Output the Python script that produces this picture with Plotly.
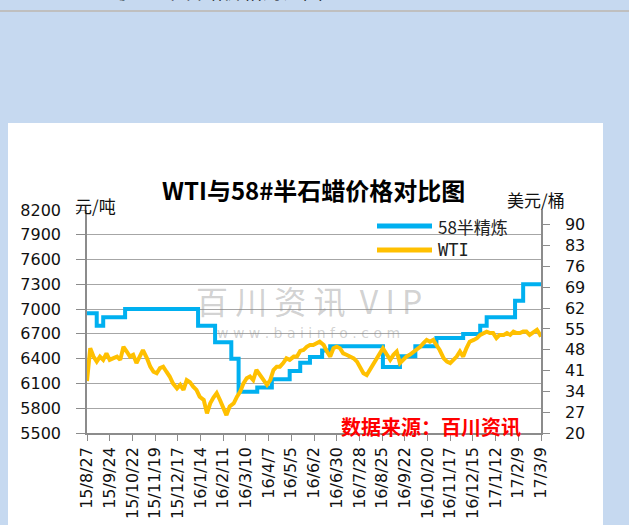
import plotly.graph_objects as go

# ---------------- data ----------------
wax_dates = ["2015-08-27", "2015-09-08", "2015-09-16", "2015-10-13", "2016-01-11",
             "2016-02-01", "2016-02-21", "2016-03-01", "2016-03-24", "2016-04-11",
             "2016-05-03", "2016-05-16", "2016-05-28", "2016-06-12", "2016-06-22",
             "2016-08-26", "2016-09-16", "2016-10-05", "2016-10-31", "2016-12-03",
             "2016-12-24", "2017-01-01", "2017-02-05", "2017-02-15", "2017-03-09"]
wax_values = [6950, 6800, 6900, 7000, 6800,
              6600, 6400, 6000, 6050, 6150,
              6250, 6350, 6420, 6500, 6550,
              6300, 6430, 6550, 6650, 6700,
              6800, 6900, 7100, 7300, 7300]

wti_dates = ["2015-08-27", "2015-08-31", "2015-09-04", "2015-09-08", "2015-09-12", "2015-09-16",
             "2015-09-20", "2015-09-24", "2015-09-28", "2015-10-03", "2015-10-07", "2015-10-11",
             "2015-10-15", "2015-10-19", "2015-10-23", "2015-10-27", "2015-10-31", "2015-11-04",
             "2015-11-09", "2015-11-13", "2015-11-17", "2015-11-21", "2015-11-25", "2015-11-29",
             "2015-12-03", "2015-12-07", "2015-12-11", "2015-12-16", "2015-12-20", "2015-12-24",
             "2015-12-28", "2016-01-01", "2016-01-05", "2016-01-09", "2016-01-13", "2016-01-18",
             "2016-01-22", "2016-01-26", "2016-01-30", "2016-02-03", "2016-02-07", "2016-02-11",
             "2016-02-15", "2016-02-19", "2016-02-24", "2016-02-28", "2016-03-03", "2016-03-07",
             "2016-03-11", "2016-03-15", "2016-03-19", "2016-03-23", "2016-03-27", "2016-04-01",
             "2016-04-05", "2016-04-09", "2016-04-13", "2016-04-17", "2016-04-21", "2016-04-25",
             "2016-04-29", "2016-05-03", "2016-05-08", "2016-05-12", "2016-05-16", "2016-05-20",
             "2016-05-24", "2016-05-28", "2016-06-01", "2016-06-09", "2016-06-14", "2016-06-18",
             "2016-06-22", "2016-06-26", "2016-06-30", "2016-07-04", "2016-07-08", "2016-07-12",
             "2016-07-16", "2016-07-21", "2016-07-25", "2016-07-29", "2016-08-02", "2016-08-06",
             "2016-08-10", "2016-08-14", "2016-08-18", "2016-08-22", "2016-08-26", "2016-08-31",
             "2016-09-04", "2016-09-08", "2016-09-12", "2016-09-16", "2016-09-20", "2016-09-24",
             "2016-09-28", "2016-10-03", "2016-10-07", "2016-10-11", "2016-10-15", "2016-10-19",
             "2016-10-23", "2016-10-27", "2016-10-31", "2016-11-04", "2016-11-09", "2016-11-13",
             "2016-11-17", "2016-11-21", "2016-11-25", "2016-11-29", "2016-12-03", "2016-12-07",
             "2016-12-11", "2016-12-16", "2016-12-20", "2016-12-24", "2016-12-28", "2017-01-01",
             "2017-01-05", "2017-01-09", "2017-01-13", "2017-01-17", "2017-01-22", "2017-01-26",
             "2017-01-30", "2017-02-03", "2017-02-07", "2017-02-11", "2017-02-15", "2017-02-19",
             "2017-02-23", "2017-02-28", "2017-03-04", "2017-03-08", "2017-03-09"]
wti_values = [37.5, 48.5, 45.7, 44.0, 45.7, 44.6,
              46.8, 44.6, 45.1, 45.7, 44.6, 49.0,
              47.4, 45.7, 46.3, 43.5, 45.7, 47.9,
              45.1, 42.3, 40.6, 40.1, 41.8, 42.3,
              40.6, 39.0, 36.7, 35.0, 36.2, 34.5,
              37.8, 37.1, 35.6, 34.5, 32.2, 31.1,
              26.6, 30.0, 31.9, 33.4, 31.1, 28.9,
              26.0, 28.9, 30.0, 32.2, 33.9, 36.7,
              38.4, 39.0, 37.8, 41.2, 39.5, 37.8,
              36.2, 37.8, 41.2, 42.3, 42.3, 43.5,
              45.1, 44.6, 45.7, 45.7, 47.6, 47.9,
              49.0, 49.6, 49.6, 50.7, 49.6, 47.4,
              45.7, 48.5, 49.0, 48.5, 46.8, 46.3,
              45.7, 45.1, 44.0, 42.3, 40.1, 39.5,
              41.2, 42.9, 44.6, 46.8, 48.5, 46.3,
              44.6, 46.3, 47.4, 43.5, 44.6, 45.7,
              46.3, 47.4, 47.9, 49.0, 50.2, 51.3,
              50.7, 51.3, 49.6, 47.9, 45.1, 44.0,
              43.5, 44.6, 45.7, 47.4, 45.7, 48.5,
              50.7, 51.3, 51.9, 53.0, 53.6, 54.1,
              53.6, 53.6, 51.9, 53.0, 53.0, 53.6,
              53.0, 54.1, 53.6, 53.6, 54.1, 54.1,
              53.0, 54.1, 54.7, 53.0, 52.4]

x_tick_dates = ["2015-08-27", "2015-09-24", "2015-10-22", "2015-11-19", "2015-12-17",
                "2016-01-14", "2016-02-11", "2016-03-10", "2016-04-07", "2016-05-05",
                "2016-06-02", "2016-06-30", "2016-07-28", "2016-08-25", "2016-09-22",
                "2016-10-20", "2016-11-17", "2016-12-15", "2017-01-12", "2017-02-09",
                "2017-03-09"]
x_tick_labels = ["15/8/27", "15/9/24", "15/10/22", "15/11/19", "15/12/17",
                 "16/1/14", "16/2/11", "16/3/10", "16/4/7", "16/5/5",
                 "16/6/2", "16/6/30", "16/7/28", "16/8/25", "16/9/22",
                 "16/10/20", "16/11/17", "16/12/15", "17/1/12", "17/2/9",
                 "17/3/9"]
left_ticks = [5500, 5800, 6100, 6400, 6700, 7000, 7300, 7600, 7900, 8200]
right_ticks = [20, 27, 34, 41, 48, 55, 62, 69, 76, 83, 90]

title_text = "WTI与58#半石蜡价格对比图"
wax_name = "58半精炼"
wti_name = "WTI"

# ---------------- figure ----------------
BLUE = "#00B0F0"
ORANGE = "#FFC000"
GRID = "#A6A6A6"
AXIS = "#8C8C8C"
TICKFONT = dict(family="DejaVu Sans", size=16, color="#111111")
CJK = "Noto Sans CJK SC"

fig = go.Figure()
fig.add_trace(go.Scatter(x=wax_dates, y=wax_values, name=wax_name, mode="lines",
                         line=dict(color=BLUE, width=4, shape="hv"), yaxis="y"))
fig.add_trace(go.Scatter(x=wti_dates, y=wti_values, name=wti_name, mode="lines",
                         line=dict(color=ORANGE, width=4), yaxis="y2"))

L, R, T, B = 87, 88, 210, 92
W, H = 629, 525
pw, ph = W - L - R, H - T - B


def px(x):
    return (x - L) / pw


def py(y):
    return (H - B - y) / ph


shapes = [
    # white chart panel
    dict(type="rect", xref="paper", yref="paper", x0=px(8), x1=px(603), y0=py(540), y1=py(123),
         fillcolor="white", line=dict(width=0), layer="below"),
    # thin separator line at very top
    dict(type="line", xref="paper", yref="paper", x0=px(-5), x1=px(640), y0=py(11), y1=py(11),
         line=dict(color="#BFBFBF", width=2)),
    # legend samples
    dict(type="line", xref="paper", yref="paper", x0=px(377), x1=px(432), y0=py(226), y1=py(226),
         line=dict(color=BLUE, width=5)),
    dict(type="line", xref="paper", yref="paper", x0=px(377), x1=px(432), y0=py(250), y1=py(250),
         line=dict(color=ORANGE, width=5)),
]

annotations = [
    dict(text="<b>" + title_text + "</b>", xref="paper", yref="paper", x=px(313), y=py(189),
         xanchor="center", yanchor="middle", showarrow=False,
         font=dict(family=CJK, size=24, color="#000000")),
    dict(text="元/吨", xref="paper", yref="paper", x=px(95), y=py(205),
         xanchor="center", yanchor="middle", showarrow=False,
         font=dict(family=CJK, size=17, color="#111111")),
    dict(text="美元/桶", xref="paper", yref="paper", x=px(536), y=py(199),
         xanchor="center", yanchor="middle", showarrow=False,
         font=dict(family=CJK, size=17, color="#111111")),
    dict(text=wax_name, xref="paper", yref="paper", x=px(436), y=py(226),
         xanchor="left", yanchor="middle", showarrow=False,
         font=dict(family=CJK, size=17, color="#222222")),
    dict(text=wti_name, xref="paper", yref="paper", x=px(436), y=py(250),
         xanchor="left", yanchor="middle", showarrow=False,
         font=dict(family="DejaVu Sans Mono", size=17, color="#222222")),
    # watermark
    dict(text="百 川 资 讯  V I P", xref="paper", yref="paper", x=px(309), y=py(300),
         xanchor="center", yanchor="middle", showarrow=False,
         font=dict(family=CJK, size=32, color="rgba(140,140,140,0.40)")),
    dict(text="w w w . b a i i n f o . c o m", xref="paper", yref="paper", x=px(308), y=py(333),
         xanchor="center", yanchor="middle", showarrow=False,
         font=dict(family="DejaVu Sans", size=14, color="rgba(140,140,140,0.40)")),
    # source
    dict(text="<b>数据来源：百川资讯</b>", xref="paper", yref="paper", x=px(431), y=py(426),
         xanchor="center", yanchor="middle", showarrow=False,
         font=dict(family=CJK, size=20, color="#FF0000")),
    # clipped heading at very top of the page
    dict(text="WTI与58#半石蜡价格对比图：", xref="paper", yref="paper", x=px(72), y=py(7),
         xanchor="left", yanchor="bottom", showarrow=False,
         font=dict(family=CJK, size=20, color="#000000")),
]

fig.update_layout(
    width=W, height=H,
    margin=dict(l=L, r=R, t=T, b=B, pad=0),
    paper_bgcolor="#C6D9F0",
    plot_bgcolor="white",
    showlegend=False,
    shapes=shapes,
    annotations=annotations,
    xaxis=dict(type="date", range=["2015-08-27", "2017-03-09"],
               tickmode="array", tickvals=x_tick_dates, ticktext=x_tick_labels,
               tickangle=-90, tickfont=TICKFONT,
               ticks="outside", ticklen=6, tickcolor=AXIS,
               showline=True, linecolor=AXIS, linewidth=1.5,
               showgrid=False, zeroline=False, automargin=False),
    yaxis=dict(range=[5500, 8200], tickmode="array", tickvals=left_ticks,
               tickfont=TICKFONT, ticks="outside", ticklen=9, tickcolor=AXIS,
               ticklabelstandoff=12,
               showline=True, linecolor=AXIS, linewidth=1.5,
               showgrid=True, gridcolor=GRID, gridwidth=1.3,
               zeroline=False, automargin=False),
    yaxis2=dict(range=[20, 95], overlaying="y", side="right", tickmode="array",
                tickvals=right_ticks, tickfont=TICKFONT,
                ticks="outside", ticklen=7, tickcolor=AXIS, ticklabelstandoff=12,
                showline=True, linecolor=AXIS, linewidth=1.5,
                showgrid=False, zeroline=False, automargin=False),
)

fig.write_html("out.html", config={"displayModeBar": False},
               post_script="document.body.style.margin='0';document.body.style.overflow='hidden';")
